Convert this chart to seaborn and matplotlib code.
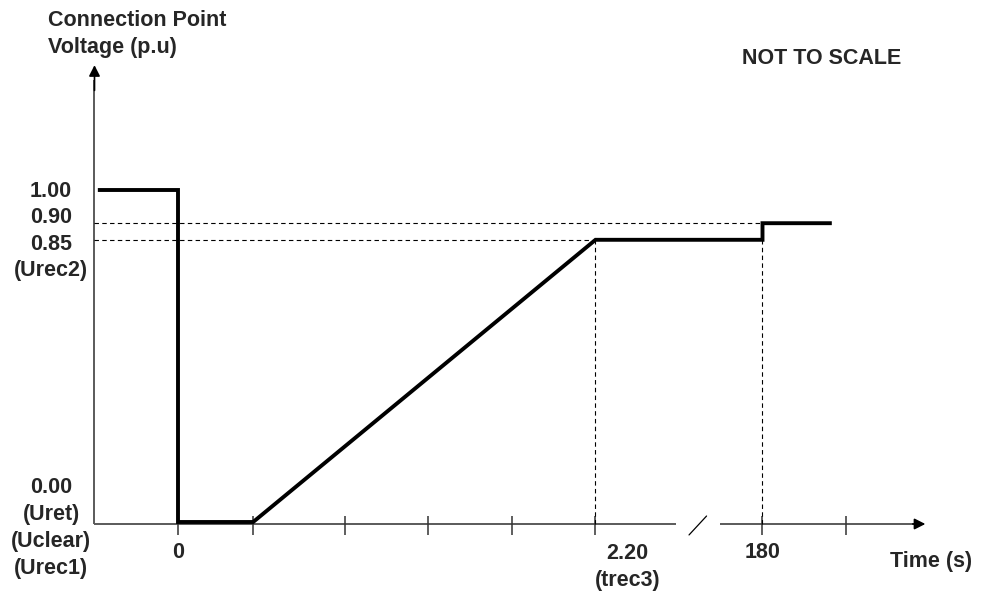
import numpy as np
import pandas as pd
import matplotlib
matplotlib.use("Agg")
import matplotlib.pyplot as plt
import seaborn as sns

# --- Step 1: schematic data (NOT TO SCALE) ---
# time axis is drawn in "tick units": one unit per tick mark
tick_pos = [0, 0.9, 2, 3, 4, 5, 7, 8]
time_labels = ["0", "2.20\n(trec3)", "180"]
time_label_pos = [0, 5, 7]

curve_x = [-0.96, 0, 0, 0.9, 5, 7, 7, 7.83]
curve_v = [1.00, 1.00, 0.00, 0.00, 0.85, 0.85, 0.90, 0.90]

ref_levels = [0.90, 0.85]      # dashed reference levels
ref_ends = [7, 5]              # where each dashed level meets the curve

upper_labels = ["1.00", "0.90", "0.85", "(Urec2)"]
lower_labels = ["0.00", "(Uret)", "(Uclear)", "(Urec1)"]

# --- Step 2: figure setup ---
sns.set_style("white")
plt.rcParams['font.family'] = ['Liberation Sans', 'DejaVu Sans']

W, H = 982, 592
fig = plt.figure(figsize=(W / 100, H / 100), dpi=100)
ax = fig.add_axes([0, 0, 1, 1])
x0_px, x_unit = 178, 83.5
y0_px, y_unit = 522, 332
ax.set_xlim(-x0_px / x_unit, (W - x0_px) / x_unit)
ax.set_ylim(-(H - y0_px) / y_unit, y0_px / y_unit)
ax.axis('off')

axis_col = '#5a5a5a'
y_ax = -1.0
x_ax = -0.006

# --- Step 3: axes drawn by hand (broken time axis with arrows) ---
ax.plot([y_ax, y_ax], [x_ax, 1.33], color=axis_col, lw=1.4, solid_capstyle='butt')
ax.annotate("", xy=(y_ax, 1.376), xytext=(y_ax, 1.30),
            arrowprops=dict(arrowstyle="-|>,head_length=0.65,head_width=0.33",
                            mutation_scale=10, color='black', lw=1.2,
                            shrinkA=0, shrinkB=0))
ax.plot([y_ax, 5.97], [x_ax, x_ax], color=axis_col, lw=1.4, solid_capstyle='butt')
ax.plot([6.49, 8.85], [x_ax, x_ax], color=axis_col, lw=1.4, solid_capstyle='butt')
ax.annotate("", xy=(8.95, x_ax), xytext=(8.8, x_ax),
            arrowprops=dict(arrowstyle="-|>,head_length=0.65,head_width=0.33",
                            mutation_scale=10, color='black', lw=1.2,
                            shrinkA=0, shrinkB=0))
ax.plot([6.12, 6.33], [-0.039, 0.018], color='black', lw=0.9)
ax.vlines(tick_pos, -0.039, 0.018, color='#333333', lw=1.1)

# dashed reference lines
for lvl, end in zip(ref_levels, ref_ends):
    ax.plot([y_ax, end], [lvl, lvl], color='black', lw=0.8, linestyle=(0, (4, 3)))
    ax.plot([end, end], [x_ax, lvl], color='black', lw=0.8, linestyle=(0, (4, 3)))

# --- Step 4: voltage profile ---
df = pd.DataFrame({"t": curve_x, "v": curve_v})
sns.lineplot(data=df, x="t", y="v", sort=False, estimator=None, color='black',
             lw=2.8, ax=ax, solid_joinstyle='miter', solid_capstyle='butt')

# --- Step 5: text ---
fs = 15.5
def put(x, y, s, **kw):
    fig.text(x / W, 1 - y / H, s, fontsize=fs, fontweight='bold', **kw)

put(48, 34, "Connection Point\nVoltage (p.u)", ha='left', va='center', linespacing=1.4)
put(822, 59, "NOT TO SCALE", ha='center', va='center')
put(972, 562, "Time (s)", ha='right', va='center')
put(51, 231, "\n".join(upper_labels), ha='center', va='center', multialignment='center',
    linespacing=1.34)
put(51, 528, "\n".join(lower_labels), ha='center', va='center', multialignment='center',
    linespacing=1.36)

for lab, pos in zip(time_labels, time_label_pos):
    dx = 32 if "\n" in lab else 0
    dy = -45 if "\n" in lab else -31
    ax.annotate(lab, xy=(pos, 0), xytext=(dx, dy), textcoords='offset pixels',
                ha='center', va='center', fontsize=fs, fontweight='bold',
                linespacing=1.4)

fig.savefig("out.png", dpi=100)
plt.close()
